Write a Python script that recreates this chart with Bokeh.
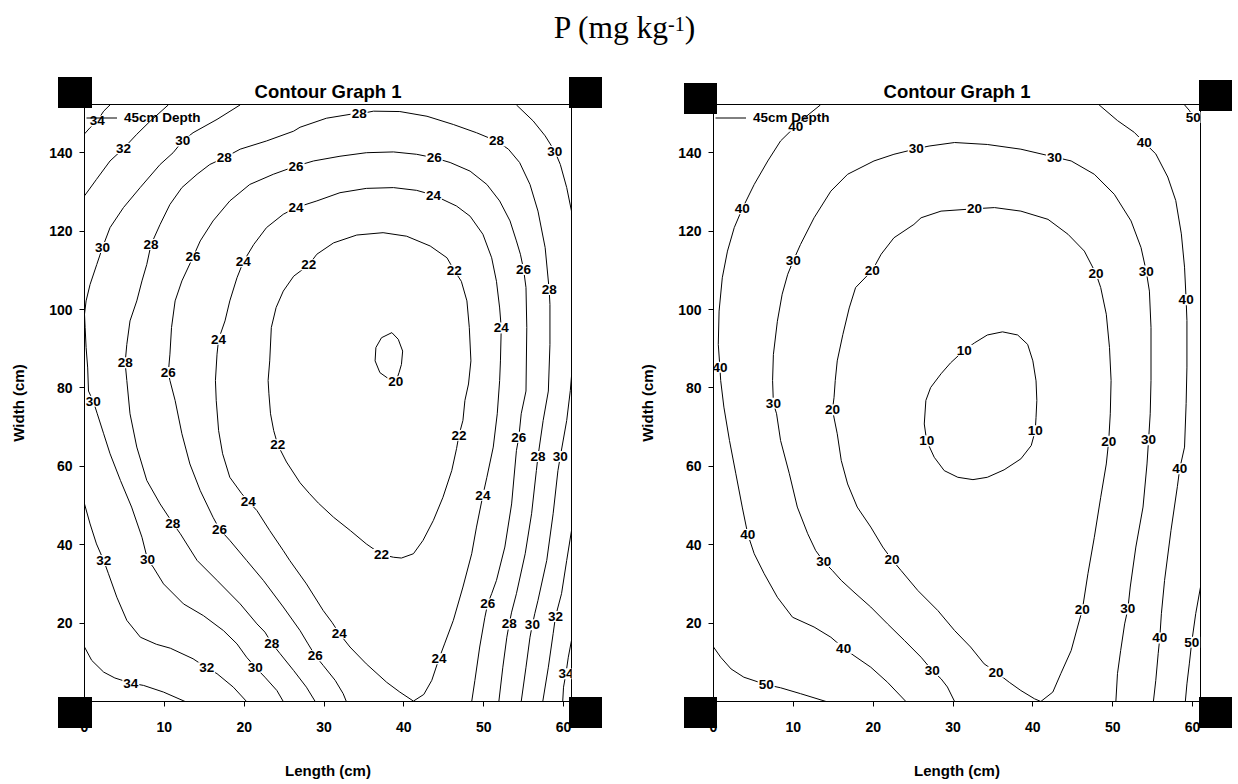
from bokeh.plotting import figure
from bokeh.models import Range1d, FixedTicker, Legend, LegendItem, Div
from bokeh.layouts import column, row
from bokeh.embed import file_html
from bokeh.resources import INLINE
from bokeh.core.properties import value

# ---------------- data ----------------
X_TICKS = [0, 10, 20, 30, 40, 50, 60]
Y_TICKS = [0, 20, 40, 60, 80, 100, 120, 140]
X_MAX = 61.0
Y_MAX = 152.3

# ---- left panel contour lines (Length cm, Width cm) ----
L20_X = [37.2, 38.5, 39.3, 39.85, 39.7, 39.4, 39.0, 37.9, 37.0, 36.4, 36.5, 37.2]
L20_Y = [92.8, 94.1, 92.4, 89.4, 86.0, 83.9, 81.6, 82.6, 83.9, 86.9, 90.3, 92.8]

L22_X = [28.1, 29.1, 31.2, 34.1, 37.4, 40.35, 43.3, 45.4, 46.3, 47.2, 47.9, 48.2, 48.4, 48.1, 47.65, 47.4, 46.9,
         46.6, 46.0, 44.9, 43.7, 42.4, 41.2, 39.7, 38.7, 37.2, 35.3, 33.3, 31.2, 29.3, 28.2, 27.0, 25.3, 24.2,
         23.7, 23.3, 23.1, 23.0, 23.2, 23.4, 24.0, 24.9, 26.2, 28.1]
L22_Y = [111.4, 114.1, 117.0, 119.0, 119.6, 118.7, 116.2, 113.2, 110.0, 107.2, 102.2, 95.4, 86.9, 81.0, 76.8, 71.7, 67.9,
         64.5, 58.9, 52.1, 46.2, 41.1, 37.7, 36.6, 36.8, 37.5, 40.2, 43.6, 47.0, 50.6, 53.0, 55.8, 61.1, 65.5,
         69.1, 73.4, 78.5, 81.9, 86.9, 95.4, 100.5, 104.7, 108.5, 111.4]

L24_X = [16.4, 16.6, 16.8, 17.6, 18.2, 19.1, 19.9, 21.2, 22.8, 24.9, 26.5, 29.1, 32.0, 35.3, 38.7, 41.6, 43.7, 46.6,
         48.3, 49.9, 51.0, 51.6, 52.0, 52.2, 52.1, 52.0, 51.7, 51.2, 50.4, 49.9, 49.1, 48.5, 47.4, 46.2, 45.1, 44.4,
         43.5, 42.5, 41.2, 39.5, 37.85, 35.3, 33.25, 31.9, 31.0, 29.9, 27.8, 25.7, 24.9, 23.2, 21.6, 20.5, 19.7,
         18.2, 17.3, 16.8, 16.5, 16.4]
L24_Y = [81.9, 88.6, 92.4, 97.1, 102.2, 108.1, 112.2, 116.6, 120.9, 124.3, 126.0, 127.7, 129.8, 130.9, 131.1, 130.4,
         129.2, 126.4, 123.8, 119.2, 113.2, 107.2, 100.4, 95.3, 86.9, 81.9, 73.4, 64.9, 57.2, 52.6, 44.5, 37.7, 29.2,
         20.7, 14.7, 10.9, 5.4, 1.8, 0.1, 2.4, 4.9, 9.6, 13.9, 17.4, 20.2, 23.2, 30.0, 36.0, 38.5, 43.6, 48.7, 51.1,
         53.0, 57.2, 63.2, 69.1, 76.8, 81.9]

L26_X = [32.8, 32.4, 31.4, 29.9, 28.9, 28.0, 27.0, 24.9, 22.4, 20.3, 18.2, 16.9, 16.1, 14.5, 13.2, 12.2, 11.35, 10.7,
         10.5, 10.7, 10.9, 11.35, 12.2, 13.6, 14.5, 16.1, 18.2, 20.7, 23.65, 26.5, 28.7, 32.0, 35.3, 38.7, 41.6, 43.8,
         45.8, 48.3, 50.4, 52.0, 53.3, 54.1, 54.6, 55.0, 55.3, 55.4, 55.3, 54.7, 54.4, 54.1, 53.5, 52.65, 51.6, 51.0,
         50.5, 50.15, 49.5, 48.9, 48.5]
L26_Y = [0.0, 2.0, 5.4, 9.2, 11.7, 14.7, 18.1, 24.1, 30.9, 36.0, 41.1, 44.0, 47.0, 53.8, 60.6, 68.3, 76.8, 81.9,
         83.9, 88.6, 95.4, 102.2, 107.3, 113.4, 117.5, 122.6, 127.7, 131.9, 134.5, 136.6, 137.9, 139.1, 140.0, 140.2,
         139.6, 138.7, 137.5, 135.3, 131.9, 127.7, 122.6, 117.5, 114.1, 110.2, 105.6, 95.4, 79.2, 73.4, 67.4, 64.0,
         50.4, 39.4, 30.9, 27.5, 24.9, 21.5, 13.9, 5.4, 0.0]

L28_X = [28.9, 27.8, 26.2, 24.5, 23.45, 22.6, 21.6, 19.5, 16.6, 14.1, 12.0, 11.06, 9.47, 7.8, 6.55, 5.7, 5.3, 5.09,
         5.3, 5.7, 6.55, 7.2, 7.8, 8.34, 9.47, 10.7, 12.2, 14.1, 15.7, 17.5, 19.5, 22.8, 26.2, 27.0, 30.3, 33.3, 34.4,
         36.2, 39.5, 42.9, 46.2, 49.1, 51.6, 53.1, 54.5, 55.8, 56.8, 57.7, 58.2, 58.3, 58.3, 58.1, 57.45, 56.8, 56.6,
         56.0, 55.2, 54.1, 53.5, 53.2, 52.9, 52.4, 51.9]
L28_Y = [0.0, 3.65, 7.9, 12.2, 14.9, 17.7, 19.8, 24.9, 30.9, 36.0, 42.8, 45.5, 50.4, 56.4, 64.9, 73.4, 81.9, 86.4,
         91.1, 97.1, 102.2, 107.3, 111.5, 116.6, 121.7, 126.8, 131.1, 134.5, 137.0, 138.7, 140.9, 143.0, 145.5, 146.5,
         148.8, 149.8, 149.9, 150.6, 150.5, 149.3, 147.2, 145.1, 143.0, 140.9, 137.5, 131.9, 125.1, 115.8, 105.1,
         101.3, 91.1, 79.2, 71.7, 62.5, 58.9, 47.9, 37.7, 27.5, 22.8, 19.8, 16.4, 8.75, 0.0]

L30A_X = [19.5, 16.6, 13.6, 12.3, 11.1, 9.47, 6.97, 4.88, 3.2, 2.25, 1.54, 0.7, 0.2, 0.0, 0.08, 0.2, 0.4, 0.5, 1.1,
          1.6, 2.4, 3.2, 4.5, 5.9, 7.2, 7.9, 8.6, 9.9, 12.4, 14.9, 17.4, 19.1, 20.3, 21.4, 22.6, 24.1, 24.9]
L30A_Y = [152.2, 148.5, 145.1, 143.0, 140.0, 137.0, 131.1, 126.0, 120.9, 115.8, 111.5, 106.4, 102.2, 98.8, 95.4,
          90.3, 85.1, 79.2, 76.6, 73.4, 68.3, 63.2, 56.4, 49.6, 41.9, 36.2, 34.3, 30.0, 24.9, 21.9, 18.1, 14.7, 11.3,
          8.75, 6.2, 2.8, 0.0]
L30B_X = [54.1, 56.2, 57.7, 58.9, 59.6, 60.4, 61.0]
L30B_Y = [152.2, 148.1, 144.3, 140.4, 137.0, 131.1, 125.1]
L30C_X = [61.0, 60.85, 60.4, 59.6, 59.3, 58.7, 57.9, 56.8, 56.4, 56.1, 55.8, 55.3, 54.7]
L30C_Y = [83.0, 79.3, 71.7, 62.5, 58.9, 47.9, 36.0, 25.8, 22.4, 19.6, 16.4, 8.75, 0.0]

L32A_X = [10.5, 8.2, 6.55, 4.9, 3.2, 1.5, 0.0]
L32A_Y = [152.2, 148.0, 144.7, 141.1, 137.9, 133.2, 129.0]
L32B_X = [0.0, 0.7, 1.5, 2.4, 3.0, 4.05, 5.3, 7.0, 9.0, 10.75, 13.6, 15.3, 16.6, 18.65, 20.3]
L32B_Y = [50.4, 45.3, 40.2, 36.0, 32.6, 26.6, 20.7, 16.4, 14.6, 13.6, 10.9, 8.6, 7.1, 3.65, 0.0]
L32C_X = [61.0, 60.4, 59.75, 59.0, 58.7, 58.1, 57.4]
L32C_Y = [43.6, 36.0, 27.5, 21.7, 17.3, 8.75, 0.0]

L34A_X = [3.2, 2.4, 1.6, 0.7, 0.0]
L34A_Y = [152.2, 150.6, 148.1, 146.4, 144.8]
L34B_X = [0.0, 0.9, 2.4, 3.8, 5.8, 7.4, 9.9, 12.6]
L34B_Y = [13.9, 10.5, 7.5, 6.0, 4.7, 4.1, 2.4, 0.0]
L34C_X = [61.0, 60.6, 60.3, 60.0, 59.9]
L34C_Y = [15.6, 11.3, 7.1, 3.65, 0.0]

LEFT_LABEL_TEXT = ["20",
                   "22", "22", "22", "22", "22",
                   "24", "24", "24", "24", "24", "24", "24", "24", "24",
                   "26", "26", "26", "26", "26", "26", "26", "26", "26",
                   "28", "28", "28", "28", "28", "28", "28", "28", "28", "28",
                   "30", "30", "30", "30", "30", "30", "30", "30",
                   "32", "32", "32", "32",
                   "34", "34", "34"]
LEFT_LABEL_X = [39.0,
                28.1, 46.3, 46.9, 37.2, 24.2,
                26.5, 19.9, 16.8, 20.5, 31.9, 44.4, 49.9, 52.2, 43.7,
                26.5, 13.6, 10.5, 16.9, 28.9, 50.5, 54.4, 55.0, 43.8,
                34.4, 17.5, 8.34, 5.09, 11.06, 23.45, 53.2, 56.8, 58.2, 51.6,
                12.3, 2.25, 1.1, 7.9, 21.4, 56.1, 59.6, 58.9,
                4.9, 2.4, 15.3, 59.0,
                1.6, 5.8, 60.3]
LEFT_LABEL_Y = [81.6,
                111.4, 110.0, 67.9, 37.5, 65.5,
                126.0, 112.2, 92.4, 51.1, 17.4, 10.9, 52.6, 95.3, 129.2,
                136.6, 113.4, 83.9, 44.0, 11.7, 24.9, 67.4, 110.2, 138.7,
                149.9, 138.7, 116.6, 86.4, 45.5, 14.9, 19.8, 62.5, 105.1, 143.0,
                143.0, 115.8, 76.6, 36.2, 8.75, 19.6, 62.5, 140.4,
                141.1, 36.0, 8.6, 21.7,
                148.1, 4.7, 7.1]

# ---- right panel contour lines ----
R10_X = [31.4, 32.7, 34.3, 36.2, 38.1, 39.35, 40.0, 40.4, 40.5, 40.4, 40.3, 39.8, 38.5, 36.4, 34.3, 32.5, 30.6, 28.9,
         27.65, 26.7, 26.4, 26.6, 27.2, 28.5, 29.7, 31.4]
R10_Y = [89.6, 91.5, 93.5, 94.3, 93.5, 91.1, 86.9, 81.8, 76.8, 72.5, 69.1, 65.3, 61.9, 59.1, 57.2, 56.6, 57.2, 58.9,
         62.3, 66.5, 70.8, 76.8, 80.1, 83.6, 86.4, 89.6]

R20_X = [15.25, 15.5, 16.2, 17.0, 17.8, 19.9, 21.0, 22.6, 25.1, 26.0, 28.5, 32.7, 35.2, 38.5, 41.9, 44.4, 46.45, 47.9,
         48.5, 49.2, 49.6, 49.8, 49.7, 49.5, 49.2, 48.5, 47.7, 46.9, 46.2, 45.6, 44.8, 43.5, 42.5, 41.0, 40.2, 38.5,
         37.05, 35.4, 33.9, 32.2, 30.2, 28.1, 25.6, 23.5, 22.35, 21.2, 19.7, 18.0, 16.8, 16.0, 15.5, 14.9, 15.1, 15.25]
R20_Y = [81.9, 86.9, 93.6, 100.4, 105.6, 110.0, 114.1, 118.3, 121.7, 123.4, 125.1, 125.7, 126.0, 125.1, 123.0, 119.2,
         114.9, 109.2, 105.6, 98.8, 90.3, 81.9, 73.4, 66.4, 60.6, 52.1, 41.9, 32.6, 23.4, 19.0, 13.0, 7.1, 2.4, 0.0,
         0.7, 2.8, 4.9, 7.5, 9.6, 13.9, 18.1, 23.2, 28.3, 33.4, 36.2, 39.4, 44.5, 49.6, 55.5, 61.5, 68.3, 74.4, 77.6,
         81.9]

R30_X = [30.2, 29.3, 28.5, 27.4, 26.0, 23.9, 21.8, 19.7, 17.6, 16.0, 14.9, 13.8, 12.8, 11.8, 10.5, 9.5, 8.4, 7.9,
         7.5, 7.4, 7.5, 8.0, 8.6, 9.3, 10.0, 10.9, 12.6, 14.7, 16.8, 20.1, 22.6, 25.4, 27.0, 30.2, 34.3, 38.5, 42.7,
         44.8, 47.7, 50.2, 52.3, 53.55, 54.2, 54.6, 54.8, 54.8, 54.7, 54.5, 54.3, 53.8, 52.9, 52.2, 51.9, 51.5, 51.0,
         50.6, 50.4]
R30_Y = [0.0, 3.7, 5.8, 7.9, 11.3, 15.6, 19.8, 24.1, 27.9, 30.9, 33.4, 35.7, 38.5, 42.8, 49.6, 58.1, 66.6, 73.4,
         76.1, 81.9, 88.5, 97.0, 103.9, 109.0, 112.5, 116.6, 123.4, 130.2, 134.5, 137.9, 139.6, 141.0, 141.7, 142.6,
         142.1, 140.9, 138.9, 137.9, 134.5, 129.4, 122.6, 115.8, 109.8, 104.7, 95.4, 81.9, 73.4, 66.8, 60.6, 49.6,
         39.4, 29.2, 23.6, 19.8, 13.0, 7.1, 0.0]

R40A_X = [13.4, 11.4, 10.3, 8.4, 6.8, 5.1, 3.6, 2.6, 1.75, 1.1, 0.7, 0.6, 0.8, 0.9, 1.3, 2.0, 2.8, 3.6, 4.3, 5.1,
          6.35, 8.0, 9.9, 12.6, 14.7, 16.3, 17.6, 19.7, 21.8, 24.1]
R40A_Y = [152.2, 148.9, 146.8, 143.0, 137.9, 131.9, 125.7, 120.9, 114.9, 108.1, 99.6, 91.1, 85.3, 81.9, 75.1, 66.6,
          58.1, 49.6, 42.6, 37.7, 32.6, 26.6, 21.5, 19.0, 16.4, 13.6, 11.7, 8.75, 4.9, 0.0]
R40B_X = [48.3, 50.6, 52.7, 53.96, 55.4, 56.9, 57.9, 58.6, 59.0, 59.2, 59.3, 59.3, 59.2, 59.0, 58.4, 58.1, 57.3,
          56.5, 56.1, 55.9, 55.7, 55.4, 55.1]
R40B_Y = [152.2, 148.2, 145.2, 142.6, 139.7, 133.8, 127.8, 119.3, 110.8, 102.5, 97.2, 85.3, 76.0, 64.9, 59.4, 54.8,
          43.6, 30.9, 22.4, 16.2, 12.2, 5.4, 0.0]

R50A_X = [59.0, 59.6, 60.1, 61.0]
R50A_Y = [152.2, 150.8, 149.0, 147.5]
R50B_X = [0.0, 0.9, 2.2, 3.8, 6.6, 8.4, 10.9, 14.1]
R50B_Y = [13.9, 11.3, 8.3, 6.2, 4.3, 3.5, 2.0, 0.0]
R50C_X = [61.0, 60.4, 59.9, 59.6, 59.3, 59.1]
R50C_Y = [29.2, 22.4, 15.1, 9.6, 4.5, 0.0]

RIGHT_LABEL_TEXT = ["10", "10", "10",
                    "20", "20", "20", "20", "20", "20", "20", "20",
                    "30", "30", "30", "30", "30", "30", "30", "30", "30",
                    "40", "40", "40", "40", "40", "40", "40", "40", "40",
                    "50", "50", "50"]
RIGHT_LABEL_X = [31.4, 40.3, 26.7,
                 19.9, 32.7, 47.9, 49.5, 46.2, 35.4, 22.35, 14.9,
                 25.4, 42.7, 54.2, 54.5, 51.9, 27.4, 13.8, 7.5, 10.0,
                 10.3, 3.6, 0.8, 4.3, 16.3, 53.96, 59.2, 58.4, 55.9,
                 60.1, 6.6, 59.9]
RIGHT_LABEL_Y = [89.6, 69.1, 66.5,
                 110.0, 125.7, 109.2, 66.4, 23.4, 7.5, 36.2, 74.4,
                 141.0, 138.9, 109.8, 66.8, 23.6, 7.9, 35.7, 76.1, 112.5,
                 146.8, 125.7, 85.3, 42.6, 13.6, 142.6, 102.5, 59.4, 16.2,
                 149.0, 4.3, 15.1]

LEGEND_LABEL = "45cm Depth"
PANEL_TITLE = "Contour Graph 1"

# decorative black corner handles of the pasted graphs (page pixels: left, top, width, height)
HANDLES_PX = [(58, 77, 34, 31), (569, 77, 33, 31), (58, 697, 34, 31), (569, 697, 33, 31),
              (684, 83, 33, 31), (1199, 80, 33, 31), (684, 697, 33, 31), (1199, 697, 33, 31)]

SANS = "Liberation Sans"


def make_panel(lines, lab_x, lab_y, lab_t, border_left, border_right):
    p = figure(frame_width=487, frame_height=597,
               min_border_left=border_left, min_border_right=border_right,
               min_border_top=44, min_border_bottom=83,
               x_range=Range1d(0, X_MAX), y_range=Range1d(0, Y_MAX),
               output_backend="svg", toolbar_location=None,
               title=PANEL_TITLE)
    p.background_fill_color = "white"
    p.border_fill_color = "white"
    p.outline_line_color = "black"
    p.outline_line_width = 1
    p.outline_line_alpha = 1
    p.grid.visible = False

    p.title.align = "center"
    p.title.text_font = SANS
    p.title.text_font_style = "bold"
    p.title.text_font_size = "18.5px"
    p.title.text_color = "black"
    p.title.standoff = 6

    p.xaxis.ticker = FixedTicker(ticks=X_TICKS)
    p.yaxis.ticker = FixedTicker(ticks=Y_TICKS)
    p.xaxis.axis_label = "Length (cm)"
    p.yaxis.axis_label = "Width (cm)"
    for ax in (p.xaxis, p.yaxis):
        ax.axis_line_color = "black"
        ax.major_tick_line_color = "black"
        ax.major_tick_in = 0
        ax.major_tick_out = 5
        ax.minor_tick_line_color = None
        ax.major_label_text_font = SANS
        ax.major_label_text_font_style = "bold"
        ax.major_label_text_font_size = "14px"
        ax.major_label_text_color = "black"
        ax.axis_label_text_font = SANS
        ax.axis_label_text_font_style = "bold"
        ax.axis_label_text_font_size = "15px"
        ax.axis_label_text_color = "black"
    p.xaxis.major_label_standoff = 15
    p.xaxis.axis_label_standoff = 27
    p.yaxis.major_label_standoff = 7
    p.yaxis.axis_label_standoff = 19

    xs = [l[0] for l in lines]
    ys = [l[1] for l in lines]
    r = p.multi_line(xs=xs, ys=ys, line_color="black", line_width=1)

    p.text(x=lab_x, y=lab_y, text=lab_t, text_align="center", text_baseline="middle",
           text_font=value(SANS), text_font_style="bold", text_font_size="13.5px",
           text_color="black", background_fill_color="white", padding=1)

    legend = Legend(items=[LegendItem(label=LEGEND_LABEL, renderers=[r])],
                    location="top_left", margin=0, padding=2, spacing=0,
                    glyph_width=31, glyph_height=23, label_height=23, label_standoff=7,
                    border_line_alpha=0, background_fill_alpha=0,
                    label_text_font=SANS, label_text_font_style="bold",
                    label_text_font_size="13.5px", label_text_color="black")
    p.add_layout(legend)
    return p


left_lines = [(L20_X, L20_Y), (L22_X, L22_Y), (L24_X, L24_Y), (L26_X, L26_Y), (L28_X, L28_Y),
              (L30A_X, L30A_Y), (L30B_X, L30B_Y), (L30C_X, L30C_Y),
              (L32A_X, L32A_Y), (L32B_X, L32B_Y), (L32C_X, L32C_Y),
              (L34A_X, L34A_Y), (L34B_X, L34B_Y), (L34C_X, L34C_Y)]
right_lines = [(R10_X, R10_Y), (R20_X, R20_Y), (R30_X, R30_Y),
               (R40A_X, R40A_Y), (R40B_X, R40B_Y),
               (R50A_X, R50A_Y), (R50B_X, R50B_Y), (R50C_X, R50C_Y)]

left = make_panel(left_lines, LEFT_LABEL_X, LEFT_LABEL_Y, LEFT_LABEL_TEXT, 84, 65)
right = make_panel(right_lines, RIGHT_LABEL_X, RIGHT_LABEL_Y, RIGHT_LABEL_TEXT, 40, 38)

handles_html = "".join(
    '<div style="position:absolute;left:%dpx;top:%dpx;width:%dpx;height:%dpx;background:#000;z-index:20;"></div>'
    % h for h in HANDLES_PX)
title_html = (
    '<div style="position:relative;width:1238px;height:60px;margin:0;padding:0;">'
    '<div style="position:absolute;left:0;top:12px;width:1249px;text-align:center;'
    "font-family:'Liberation Serif',serif;font-size:31.5px;line-height:31.5px;color:#000;white-space:nowrap;\">"
    'P (mg kg<span style="font-size:20px;line-height:0;vertical-align:7px;">-1</span>)</div>'
    + handles_html + '</div>')
top = Div(text=title_html, width=1238, height=60,
          styles={"position": "relative", "z-index": "20", "overflow": "visible", "margin": "0", "padding": "0"})

layout = column(top, row(left, right))
open("out.html", "w").write(file_html(layout, INLINE))
